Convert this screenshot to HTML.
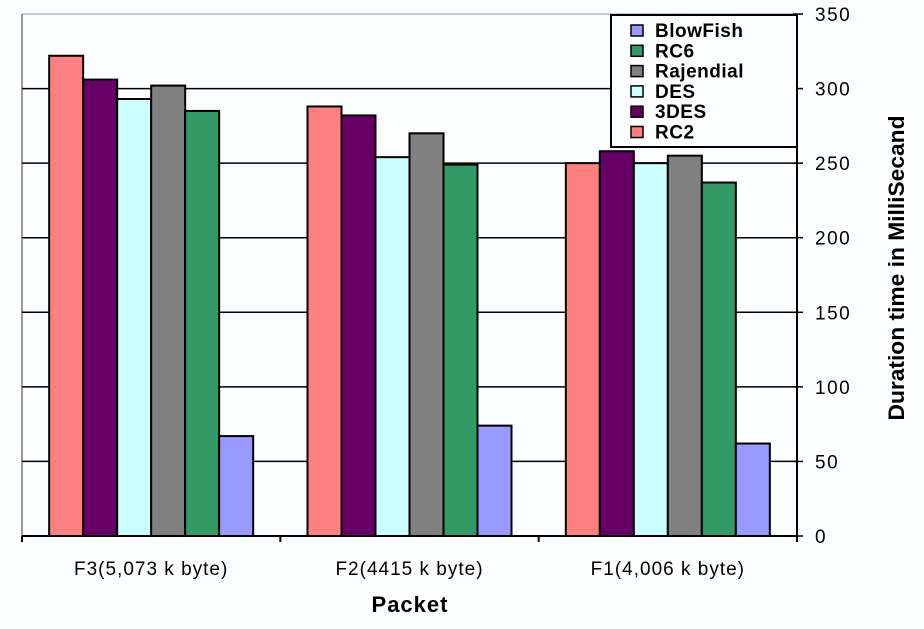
<!DOCTYPE html>
<html><head><meta charset="utf-8"><style>
html,body{margin:0;padding:0;background:#fbfdfe;}
svg{display:block;font-family:"Liberation Sans",sans-serif;}
</style></head><body>
<svg id="chart" width="924" height="629" viewBox="0 0 924 629" xmlns="http://www.w3.org/2000/svg">
<rect width="924" height="629" fill="#fbfdfe"/>
<g id="grid"></g>
<g id="bars"></g>
<g id="axes"></g>
<g id="legend"></g>
</svg>
<script>
const categories = ["F3(5,073 k byte)", "F2(4415 k byte)", "F1(4,006 k byte)"];
const seriesNames = ["RC2", "3DES", "DES", "Rajendial", "RC6", "BlowFish"];
const rc2 = [322, 288, 250];
const des3 = [306, 282, 258];
const des = [293, 254, 250];
const rajendial = [302, 270, 255];
const rc6 = [285, 249, 237];
const blowfish = [67, 74, 62];
const yTicks = [0, 50, 100, 150, 200, 250, 300, 350];

const seriesValues = [rc2, des3, des, rajendial, rc6, blowfish];
const colors = ["#ff8080", "#660066", "#ccffff", "#808080", "#339966", "#9999ff"];
const NS = "http://www.w3.org/2000/svg";
const L = 22, R = 797, T = 14, B = 536, YMAX = 350;
const catW = (R - L) / categories.length;
const barW = 34;
function y(v){ return B - (v / YMAX) * (B - T); }
function xCat(i){ return L + i * catW; }
function mk(tag, attrs, parent){ const e = document.createElementNS(NS, tag); for (const k in attrs) e.setAttribute(k, attrs[k]); parent.appendChild(e); return e; }

const grid = document.getElementById("grid");
const bars = document.getElementById("bars");
const axes = document.getElementById("axes");
const legend = document.getElementById("legend");

let tb = mk("line", {x1:L, y1:T, x2:R, y2:T, stroke:"#999", "stroke-width":1}, grid);


let lb = mk("line", {x1:L, y1:T, x2:L, y2:B, stroke:"#999", "stroke-width":2}, grid);



yTicks.forEach(t => {
  if (t > 0 && t < YMAX) {
    const g = mk("line", {x1:L, y1:y(t), x2:R, y2:y(t), stroke:"#000", "stroke-width":1.5}, grid);
    
    
  }
  const tk = mk("line", {x1:R - 4, y1:y(t), x2:R + 6, y2:y(t), stroke:"#000", "stroke-width":1.5}, axes);
  
  
  const lbl = mk("text", {x:815, y:y(t) + 7, "font-size":19, "letter-spacing":1.5, fill:"#000"}, axes);
  lbl.textContent = t;
  
  
});

categories.forEach((c, i) => {
  const groupStart = xCat(i) + (catW - barW * seriesValues.length) / 2;
  seriesValues.forEach((vals, s) => {
    const v = vals[i];
    const r = mk("rect", {x:groupStart + s * barW, y:y(v), width:barW, height:B - y(v), fill:colors[s], stroke:"#000", "stroke-width":2}, bars);
    
    
  });
  const lbl = mk("text", {x:xCat(i) + catW / 2, y:575, "font-size":19, "letter-spacing":1, "text-anchor":"middle", fill:"#000"}, axes);
  lbl.textContent = c;
  
  
});
for (let i = 0; i <= categories.length; i++) {
  const tk = mk("line", {x1:xCat(i), y1:B, x2:xCat(i), y2:B + 6, stroke:"#000", "stroke-width":2}, axes);
  
  
}
let xa = mk("line", {x1:L, y1:B, x2:R, y2:B, stroke:"#000", "stroke-width":2}, axes);


let ya = mk("line", {x1:R, y1:T, x2:R, y2:B, stroke:"#000", "stroke-width":2}, axes);



let xt = mk("text", {x:410, y:612, "font-size":22, "font-weight":"bold", "letter-spacing":1, "text-anchor":"middle", fill:"#000"}, axes);
xt.textContent = "Packet";


let yt = mk("text", {x:0, y:0, "font-size":22, "font-weight":"bold", "text-anchor":"middle", fill:"#000", textLength:305, lengthAdjust:"spacingAndGlyphs", transform:"translate(904,268) rotate(-90)"}, axes);
yt.textContent = "Duration time in MilliSecand";



let lbox = mk("rect", {x:611, y:15, width:186, height:132, fill:"#fbfdfe", stroke:"#000", "stroke-width":2}, legend);


const legendOrder = [5, 4, 3, 2, 1, 0];
legendOrder.forEach((s, k) => {
  const cy = 30 + k * 20.3;
  const sw = mk("rect", {x:631, y:cy - 5, width:12, height:11, fill:colors[s], stroke:"#000", "stroke-width":1.5}, legend);
  
  
  const t = mk("text", {x:655, y:cy + 7, "font-size":19, "font-weight":"bold", "letter-spacing":0.5, fill:"#000"}, legend);
  t.textContent = seriesNames[s];
  
  
});
</script>
</body></html>
